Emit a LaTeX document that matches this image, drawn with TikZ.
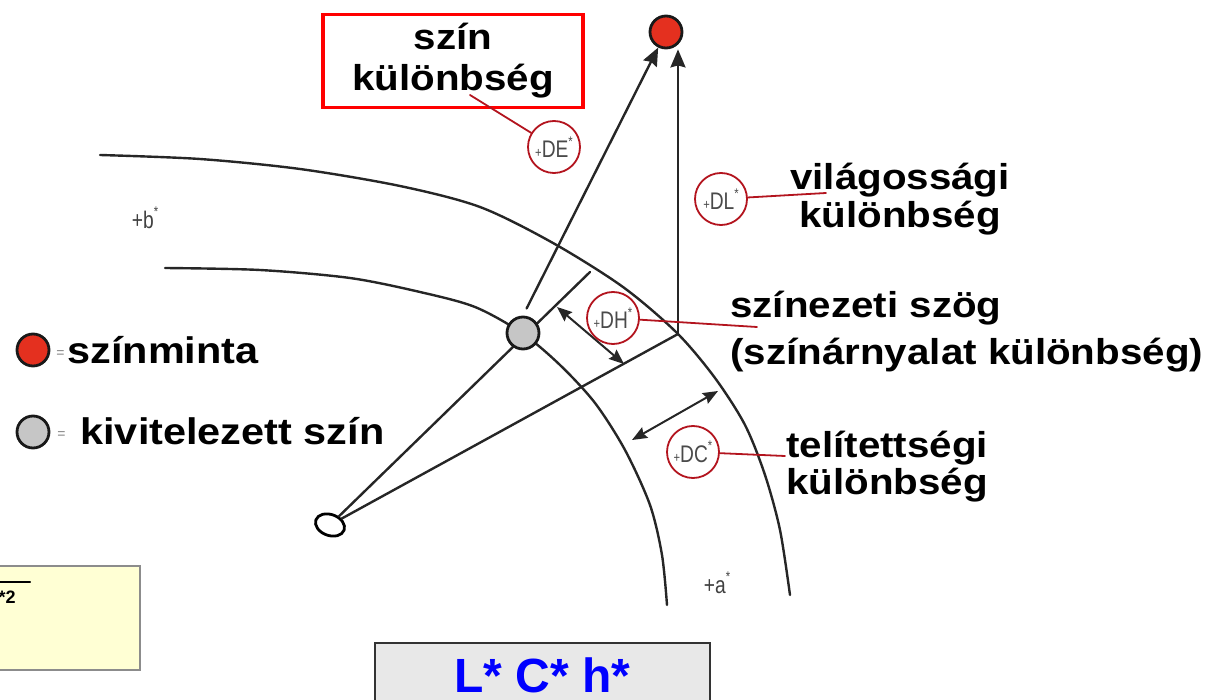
\documentclass[tikz,border=0pt]{standalone}
\usepackage{fontspec}
\setmainfont{Liberation Sans}
\newfontfamily\widefont[FakeStretch=1.12]{Liberation Sans}
\newfontfamily\narrowfont[FakeStretch=0.8]{Liberation Sans}
\usetikzlibrary{shapes.geometric, arrows.meta, positioning, calc}
\definecolor{dotred}{HTML}{E4301F}
\definecolor{dotgray}{HTML}{C6C6C6}
\definecolor{markred}{HTML}{B3141E}
\definecolor{marktext}{HTML}{4A4A4A}
\definecolor{boxred}{HTML}{FF0000}
\definecolor{boxgray}{HTML}{E8E8E8}
\definecolor{boxyellow}{HTML}{FFFFD4}
\definecolor{lchblue}{HTML}{0000FF}
\newcommand{\deltatag}[1]{{\fontsize{7}{7}\selectfont+}#1\raisebox{0.9ex}{\fontsize{7}{7}\selectfont*}}

\tikzset{
  curveline/.style={line width=1.2pt, black!85},
  colordot/.style={circle, draw=black!90, line width=1.4pt, minimum size=16pt, inner sep=0pt},
  whitept/.style={ellipse, draw=black, line width=1.4pt, minimum width=15pt, minimum height=10.5pt, inner sep=0pt, rotate=-20},
  bigarrow/.style={-{Stealth[length=9pt, width=7.5pt, inset=1pt]}, line width=1.2pt, black!85},
  smallarrow/.style={{Stealth[length=7.5pt, width=6pt, inset=1pt]}-{Stealth[length=7.5pt, width=6pt, inset=1pt]}, line width=1pt, black!85},
  deltamark/.style={circle, draw=markred, line width=0.9pt, minimum size=26pt, inner sep=0pt, text=marktext, font=\narrowfont\fontsize{12}{12}\selectfont},
  leader/.style={draw=markred, line width=0.9pt},
  termtext/.style={inner sep=0pt, font=\widefont\bfseries\fontsize{18}{19}\selectfont},
  axistext/.style={inner sep=0pt, text=black!75, font=\narrowfont\fontsize{12}{12}\selectfont}
}

\begin{document}
\begin{tikzpicture}[x=0.5pt, y=-0.5pt, line cap=round]
  \useasboundingbox (0,0) rectangle (1227,700);
  \clip (0,0) rectangle (1227,700);

  % chroma circles
  \draw[curveline] plot[smooth] coordinates {(100,155) (200,159) (300,169) (400,186) (480,207) (553,243) (623,287) (677,333) (715,378) (745,425) (765,475) (780,530) (790,595)};
  \draw[curveline] plot[smooth] coordinates {(165,268) (260,270) (350,278) (420,292) (475,307) (522,333) (560,365) (595,403) (625,450) (650,505) (662,555) (667,605)};
  \node[axistext] (bplus) at (145,218) {+b\raisebox{0.9ex}{\fontsize{7}{7}\selectfont*}};
  \node[axistext] (aplus) at (717,583) {+a\raisebox{0.9ex}{\fontsize{7}{7}\selectfont*}};

  % hue radii from the white point
  \node[whitept] (white) at (330,525) {};
  \coordinate (hueend) at (590,272);
  \coordinate (base) at (678,334);
  \draw[curveline] (white) -- (hueend);
  \draw[curveline] (white) -- (base);

  % the two colours
  \node[colordot, fill=dotgray] (made) at (523,333) {};
  \node[colordot, fill=dotred] (sample) at (666,32) {};
  \draw[bigarrow, shorten <=4pt] (made.north) -- (sample);
  \draw[bigarrow] (base) -- (base |- sample.south);

  % hue and chroma steps
  \coordinate (dhA) at (557,307);
  \coordinate (dhB) at (624,364);
  \draw[smallarrow] (dhA) -- (dhB);
  \coordinate (dcA) at (632,440);
  \coordinate (dcB) at (718,391);
  \draw[smallarrow] (dcA) -- (dcB);

  % labels
  \node[termtext, draw=boxred, line width=1.7pt, minimum width=130pt, minimum height=46.5pt, align=center,
        font=\widefont\bfseries\fontsize{18}{20.5}\selectfont] (diff) at (453,61) {szín\\különbség};
  \node[termtext, align=center, font=\widefont\bfseries\fontsize{18}{19}\selectfont] (lightness) at (900,199) {világossági\\különbség};
  \node[termtext, align=left, anchor=west, font=\widefont\bfseries\fontsize{18}{23.5}\selectfont] (hue) at (730,332) {színezeti szög\\(színárnyalat különbség)};
  \node[termtext, align=left, anchor=west, font=\widefont\bfseries\fontsize{18}{18.5}\selectfont] (chroma) at (786,467) {telítettségi\\különbség};

  \node[deltamark] (tagDE) at (554,147) {\deltatag{DE}};
  \node[deltamark] (tagDL) at (721,199) {\deltatag{DL}};
  \node[deltamark] (tagDH) at (613,318) {\deltatag{DH}};
  \node[deltamark] (tagDC) at (693,452) {\deltatag{DC}};
  \coordinate (deEnd) at (470,95);
  \coordinate (dlEnd) at (826,193);
  \coordinate (dhEnd) at (757,327);
  \coordinate (dcEnd) at (785,456);
  \draw[leader] (tagDE) -- (deEnd);
  \draw[leader] (tagDL) -- (dlEnd);
  \draw[leader] (tagDH) -- (dhEnd);
  \draw[leader] (tagDC) -- (dcEnd);

  % legend
  \node[colordot, fill=dotred] (keyred) at (33,350) {};
  \node[axistext, text=black!50, anchor=west, font=\fontsize{7}{7}\selectfont] (keyredeq) at (56,354) {=};
  \node[termtext, anchor=west, font=\widefont\bfseries\fontsize{18.5}{19}\selectfont] (keyredtxt) at (67,350) {színminta};
  \node[colordot, fill=dotgray] (keygray) at (33,432) {};
  \node[axistext, text=black!50, anchor=west, font=\fontsize{7}{7}\selectfont] (keygrayeq) at (57,435) {=};
  \node[termtext, anchor=west, font=\widefont\bfseries\fontsize{18.5}{19}\selectfont] (keygraytxt) at (80,431) {kivitelezett szín};

  % formula and model boxes
  \node[draw=black!45, line width=1pt, fill=boxyellow, minimum width=80pt, minimum height=52pt] (formula) at (60,618) {};
  \node[anchor=base east, inner sep=0pt, font=\bfseries\fontsize{9}{9}\selectfont] (formulaend) at (16,603) {*2};
  \draw[line width=0.8pt] (formulaend.north west) ++(-10,-8) -- ++(42,0);
  \node[draw=black!80, line width=1pt, fill=boxgray, anchor=north, inner xsep=0pt, inner ysep=6.5pt,
        minimum width=167.5pt, text height=18pt, text depth=14pt, text=lchblue,
        font=\bfseries\fontsize{24}{24}\selectfont] (lch) at (542.5,642) {L* C* h*};
\end{tikzpicture}
\end{document}
